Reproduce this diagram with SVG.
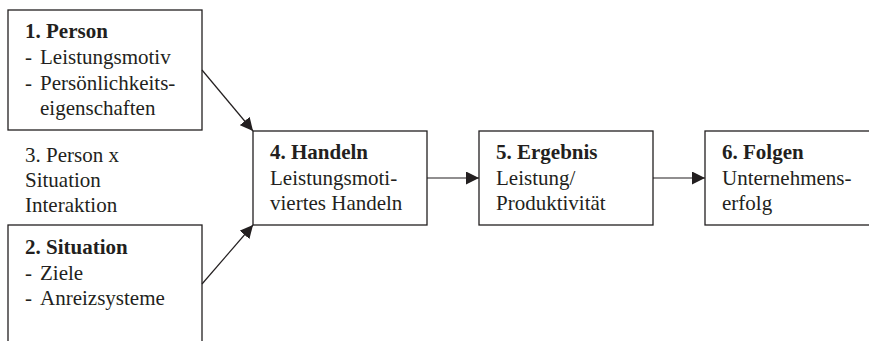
<svg xmlns="http://www.w3.org/2000/svg" width="869" height="341" viewBox="0 0 869 341">
<style>
.box{fill:#fff;stroke:#231f20;stroke-width:1.3}
text{font-family:"Liberation Serif","Times New Roman",serif;font-size:21px;fill:#231f20}
.b{font-weight:bold}
.c{stroke:#231f20;stroke-width:1.2;fill:none}
</style>
<defs>
<marker id="ah" viewBox="0 0 10 10" refX="10" refY="5" markerWidth="13" markerHeight="13" markerUnits="userSpaceOnUse" orient="auto">
<path d="M0,0 L10,5 L0,10 Z" fill="#231f20"/>
</marker>
</defs>
<rect width="869" height="341" fill="#fff"/>
<g id="n1">
<rect class="box" x="8" y="10" width="194" height="120"/>
<text x="25" y="38" class="b">1. Person</text>
<text x="25" y="64">-</text><text x="40" y="64">Leistungsmotiv</text>
<text x="25" y="90">-</text><text x="40" y="90">Persönlichkeits-</text>
<text x="40" y="115">eigenschaften</text>
</g>
<g id="n3">
<text x="25" y="162">3. Person x</text>
<text x="25" y="187">Situation</text>
<text x="25" y="212">Interaktion</text>
</g>
<g id="n2">
<rect class="box" x="8" y="225" width="194" height="130"/>
<text x="25" y="254" class="b">2. Situation</text>
<text x="25" y="280">-</text><text x="40" y="280">Ziele</text>
<text x="25" y="305">-</text><text x="40" y="305">Anreizsysteme</text>
</g>
<g id="n4">
<rect class="box" x="253" y="131" width="174" height="94"/>
<text x="270" y="159" class="b">4. Handeln</text>
<text x="270" y="185">Leistungsmoti-</text>
<text x="270" y="210">viertes Handeln</text>
</g>
<g id="n5">
<rect class="box" x="479" y="131" width="174" height="94"/>
<text x="496" y="159" class="b">5. Ergebnis</text>
<text x="496" y="185">Leistung/</text>
<text x="496" y="210">Produktivität</text>
</g>
<g id="n6">
<rect class="box" x="705" y="131" width="180" height="94"/>
<text x="722" y="159" class="b">6. Folgen</text>
<text x="722" y="185">Unternehmens-</text>
<text x="722" y="210">erfolg</text>
</g>
<g id="connectors">
<line class="c" x1="202" y1="70" x2="253" y2="131" marker-end="url(#ah)"/>
<line class="c" x1="202" y1="284" x2="253" y2="225" marker-end="url(#ah)"/>
<line class="c" x1="427" y1="178" x2="479" y2="178" marker-end="url(#ah)"/>
<line class="c" x1="653" y1="178" x2="705" y2="178" marker-end="url(#ah)"/>
</g>
</svg>
